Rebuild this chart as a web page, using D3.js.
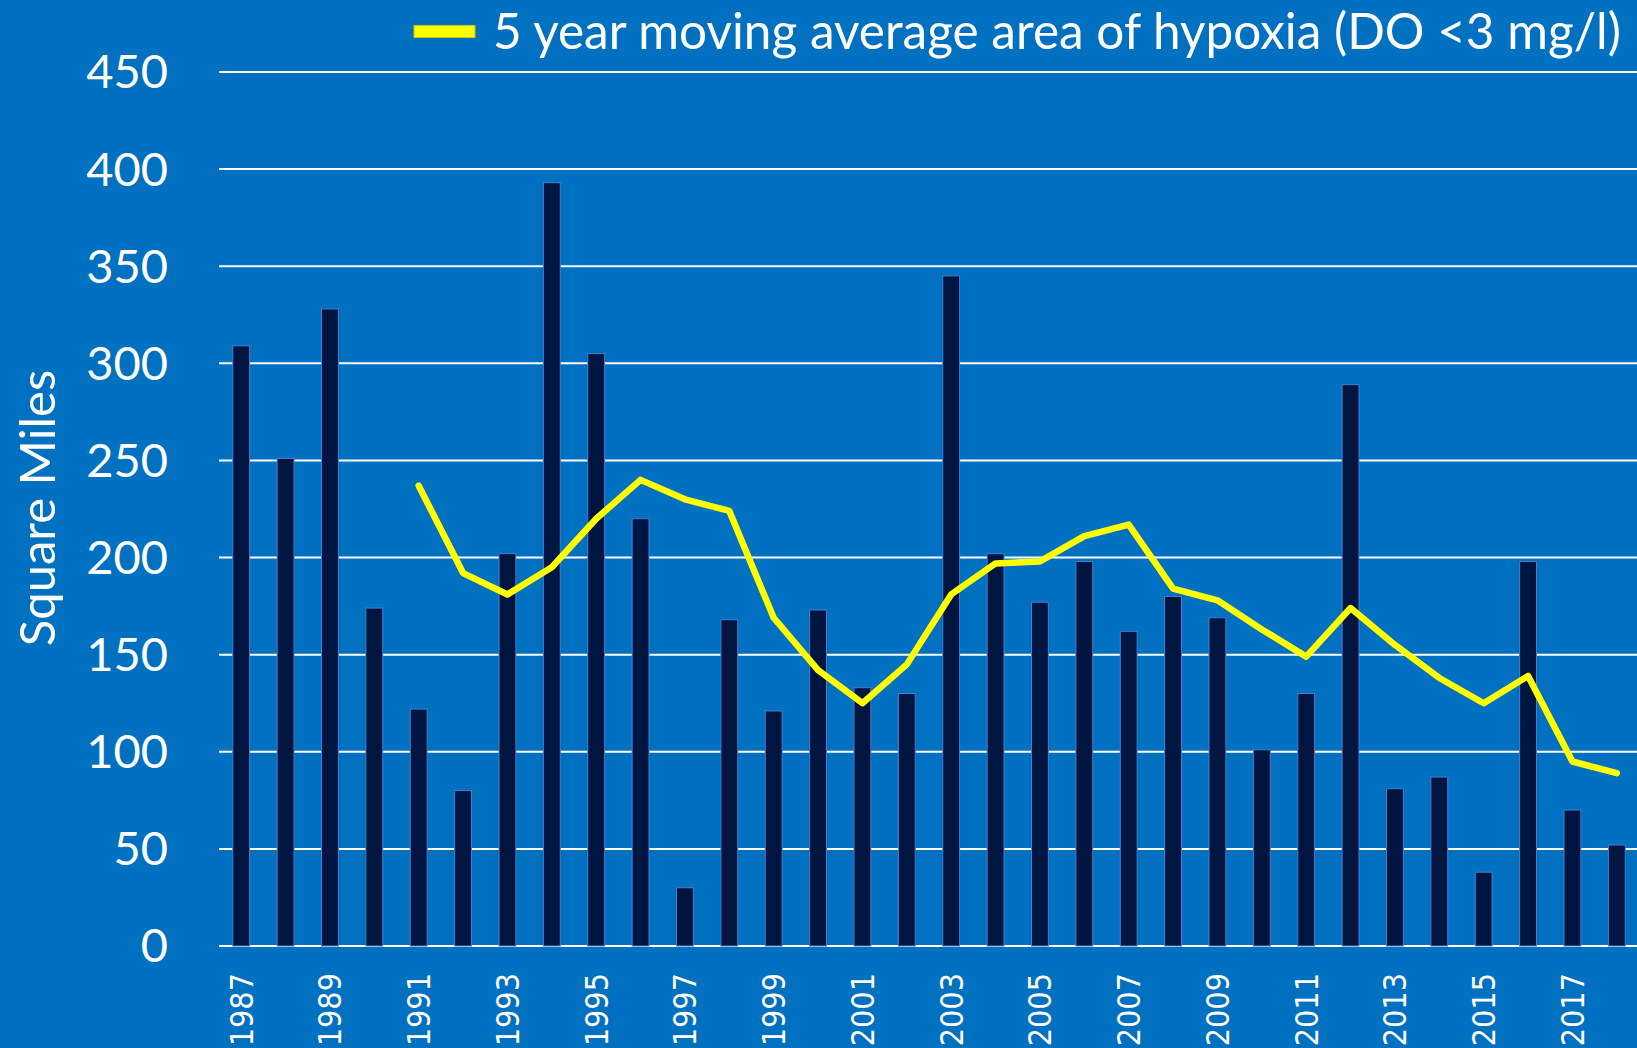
<!DOCTYPE html>
<html>
<head>
<meta charset="utf-8">
<script src="https://cdn.jsdelivr.net/npm/d3@7"></script>
<style>
  html, body { margin: 0; padding: 0; background: #0070C0; }
  svg { display: block; }
</style>
</head>
<body>
<div id="chart"></div>
<script>
// Hypoxia area by year (square miles)
const years = d3.range(1987, 2019);
const areaValues = [309, 251, 328, 174, 122, 80, 202, 393, 305, 220, 30, 168, 121, 173, 133, 130,
  345, 202, 177, 198, 162, 180, 169, 101, 130, 289, 81, 87, 38, 198, 70, 52];

// 5 year moving average (starts 1991)
const avgYears = d3.range(1991, 2019);
const avgValues = [237, 192, 181, 195, 220, 240, 230, 224, 169, 142, 125, 145, 181, 197, 198, 211,
  217, 184, 178, 163, 149, 174, 155, 138, 125, 139, 95, 89];

const yTicks = [0, 50, 100, 150, 200, 250, 300, 350, 400, 450];
const legendLabel = "5 year moving average area of hypoxia (DO <3 mg/l)";

const width = 1637, height = 1048;
const margin = { top: 72, right: -2, bottom: 102, left: 219 };

const svg = d3.select("#chart").append("svg")
  .attr("width", width)
  .attr("height", height);

svg.append("rect")
  .attr("width", width)
  .attr("height", height)
  .attr("fill", "#0070C0");

const x = d3.scaleBand()
  .domain(years)
  .range([margin.left, width - margin.right])
  .paddingInner(0.62)
  .paddingOuter(0.31);

const y = d3.scaleLinear()
  .domain([0, 450])
  .range([height - margin.bottom, margin.top]);

// gridlines
svg.append("g")
  .selectAll("line")
  .data(yTicks)
  .join("line")
  .attr("x1", margin.left)
  .attr("x2", width)
  .attr("y1", d => y(d))
  .attr("y2", d => y(d))
  .attr("stroke", "#ffffff")
  .attr("stroke-width", 2);

// y tick labels
svg.append("g")
  .selectAll("text")
  .data(yTicks)
  .join("text")
  .attr("x", 168)
  .attr("y", d => y(d))
  .attr("dy", "0.35em")
  .attr("text-anchor", "end")
  .attr("fill", "#ffffff")
  .style("font-family", "Lato, 'Open Sans', sans-serif")
  .style("font-size", "47px")
  .text(d => d);

// y axis title
svg.append("text")
  .attr("transform", `translate(38, ${508}) rotate(-90)`)
  .attr("text-anchor", "middle")
  .attr("dy", "0.35em")
  .attr("fill", "#ffffff")
  .style("font-family", "Lato, 'Open Sans', sans-serif")
  .style("font-size", "49px")
  .text("Square Miles");

// bars
svg.append("g")
  .selectAll("rect")
  .data(years.map((yr, i) => ({ yr, v: areaValues[i] })))
  .join("rect")
  .attr("x", d => x(d.yr))
  .attr("width", x.bandwidth())
  .attr("y", d => y(d.v))
  .attr("height", d => y(0) - y(d.v))
  .attr("fill", "#001641")
  .attr("stroke", "#4A7BD0")
  .attr("stroke-width", 1);

// x tick labels, every other year
svg.append("g")
  .selectAll("text")
  .data(years.filter(yr => (yr - 1987) % 2 === 0))
  .join("text")
  .attr("transform", d => `translate(${x(d) + x.bandwidth() / 2}, 973) rotate(-90)`)
  .attr("text-anchor", "end")
  .attr("dy", "0.36em")
  .attr("fill", "#ffffff")
  .style("font-family", "'DejaVu Sans Condensed', 'DejaVu Sans', sans-serif")
  .style("font-stretch", "condensed")
  .style("font-size", "32px")
  .text(d => d);

// moving average line
const line = d3.line()
  .x((d, i) => x(avgYears[i]) + x.bandwidth() / 2)
  .y(d => y(d));

svg.append("path")
  .datum(avgValues)
  .attr("d", line)
  .attr("fill", "none")
  .attr("stroke", "#FFFF00")
  .attr("stroke-width", 6.5)
  .attr("stroke-linejoin", "round")
  .attr("stroke-linecap", "round");

// legend
const legend = svg.append("g");
legend.append("rect")
  .attr("x", 414)
  .attr("y", 25.5)
  .attr("width", 61)
  .attr("height", 12)
  .attr("fill", "#FFFF00")
  .attr("stroke", "#C8C800")
  .attr("stroke-width", 1);

legend.append("text")
  .attr("x", 493)
  .attr("y", 31.5)
  .attr("dy", "0.35em")
  .attr("fill", "#ffffff")
  .style("font-family", "Lato, 'Open Sans', sans-serif")
  .style("font-size", "49.5px")
  .text(legendLabel);
</script>
</body>
</html>
